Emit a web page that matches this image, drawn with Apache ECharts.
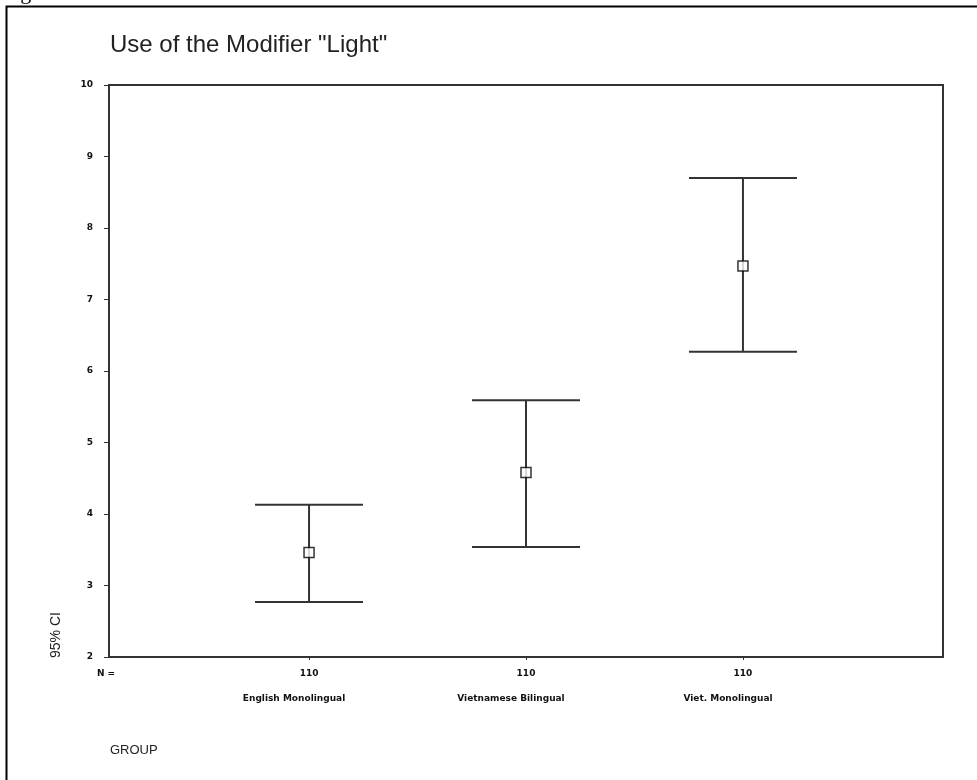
<!DOCTYPE html>
<html>
<head>
<meta charset="utf-8">
<script src="https://cdn.jsdelivr.net/npm/echarts@6/dist/echarts.min.js"></script>
<style>
  html, body { margin: 0; padding: 0; background: #fff; }
  #chart { width: 977px; height: 780px; }
</style>
</head>
<body>
<div id="chart"></div>
<script>
// --- DATA ---
const groups = ['English Monolingual', 'Vietnamese Bilingual', 'Viet. Monolingual'];
const groupPos = [1, 2, 3];
const counts = [110, 110, 110];
const means = [3.46, 4.58, 7.47];
const lower = [2.77, 3.54, 6.27];
const upper = [4.13, 5.59, 8.70];
const yTicks = [2, 3, 4, 5, 6, 7, 8, 9, 10];

// --- CHART ---
const chart = echarts.init(document.getElementById('chart'));
const sans = '"Liberation Sans", Arial, sans-serif';
const small = { fontFamily: '"DejaVu Sans", sans-serif', fontSize: 9, fontWeight: 'bold', color: '#111' };
const xMin = 0.078, xMax = 3.922;

const barData = groupPos.map((x, i) => [x, lower[i], upper[i]]);
const meanData = groupPos.map((x, i) => [x, means[i]]);

const option = {
    animation: false,
    backgroundColor: '#fff',
    title: {
        text: 'Use of the Modifier "Light"',
        left: 110, top: 33, padding: 0,
        textStyle: { fontFamily: sans, fontSize: 24, fontWeight: 'normal', color: '#222' }
    },
    grid: {
        left: 109, right: 34, top: 85, bottom: 123,
        show: true, borderColor: '#333', borderWidth: 2, backgroundColor: 'transparent'
    },
    xAxis: [{
        type: 'value', min: xMin, max: xMax,
        splitLine: { show: false },
        axisLine: { show: true, lineStyle: { color: '#333', width: 2 } },
        axisTick: { show: true, length: 3, customValues: groupPos, lineStyle: { color: '#333' } },
        axisLabel: {
            ...small, margin: 12, customValues: groupPos,
            formatter: v => String(counts[groupPos.indexOf(Math.round(v))])
        }
    }, {
        type: 'value', min: xMin, max: xMax, position: 'bottom',
        splitLine: { show: false }, axisLine: { show: false }, axisTick: { show: false },
        axisLabel: {
            ...small, margin: 37, customValues: groupPos, padding: [0, 30, 0, 0],
            formatter: v => groups[groupPos.indexOf(Math.round(v))]
        }
    }],
    yAxis: {
        type: 'value', min: yTicks[0], max: yTicks[yTicks.length - 1], interval: 1,
        splitLine: { show: false },
        axisLine: { show: true, lineStyle: { color: '#333', width: 2 } },
        axisTick: { show: true, length: 5, lineStyle: { color: '#333' } },
        axisLabel: { ...small, margin: 16 }
    },
    graphic: [
        { type: 'rect', shape: { x: 6.5, y: 6.5, width: 1000, height: 800 },
          style: { fill: 'none', stroke: '#000', lineWidth: 2 } },
        { type: 'text', x: 2, y: 4,
          style: { text: 'Figure', fontFamily: '"Liberation Serif", serif', fontSize: 22, fill: '#000', verticalAlign: 'bottom' } },
        { type: 'text', x: 56, y: 635, rotation: Math.PI / 2,
          style: { text: '95% CI', fontFamily: sans, fontSize: 14, fill: '#222', align: 'center', verticalAlign: 'middle' } },
        { type: 'text', x: 106, y: 674,
          style: { text: 'N =', font: 'bold 9px "DejaVu Sans"', fill: '#111', align: 'center', verticalAlign: 'middle' } },
        { type: 'text', x: 110, y: 750,
          style: { text: 'GROUP', fontFamily: sans, fontSize: 13, fill: '#222', verticalAlign: 'middle' } }
    ],
    series: [{
        type: 'custom',
        data: barData,
        renderItem: (params, api) => {
            const lo = api.coord([api.value(0), api.value(1)]);
            const hi = api.coord([api.value(0), api.value(2)]);
            const half = 54;
            const style = { stroke: '#333', lineWidth: 2 };
            return {
                type: 'group',
                children: [
                    { type: 'line', shape: { x1: lo[0], y1: lo[1], x2: hi[0], y2: hi[1] }, style },
                    { type: 'line', shape: { x1: hi[0] - half, y1: hi[1], x2: hi[0] + half, y2: hi[1] }, style },
                    { type: 'line', shape: { x1: lo[0] - half, y1: lo[1], x2: lo[0] + half, y2: lo[1] }, style }
                ]
            };
        },
        z: 2
    }, {
        type: 'scatter',
        data: meanData,
        symbol: 'rect', symbolSize: 10,
        itemStyle: { color: '#fff', borderColor: '#000', borderWidth: 1.5 },
        z: 3
    }]
};
chart.setOption(option);
</script>
</body>
</html>
